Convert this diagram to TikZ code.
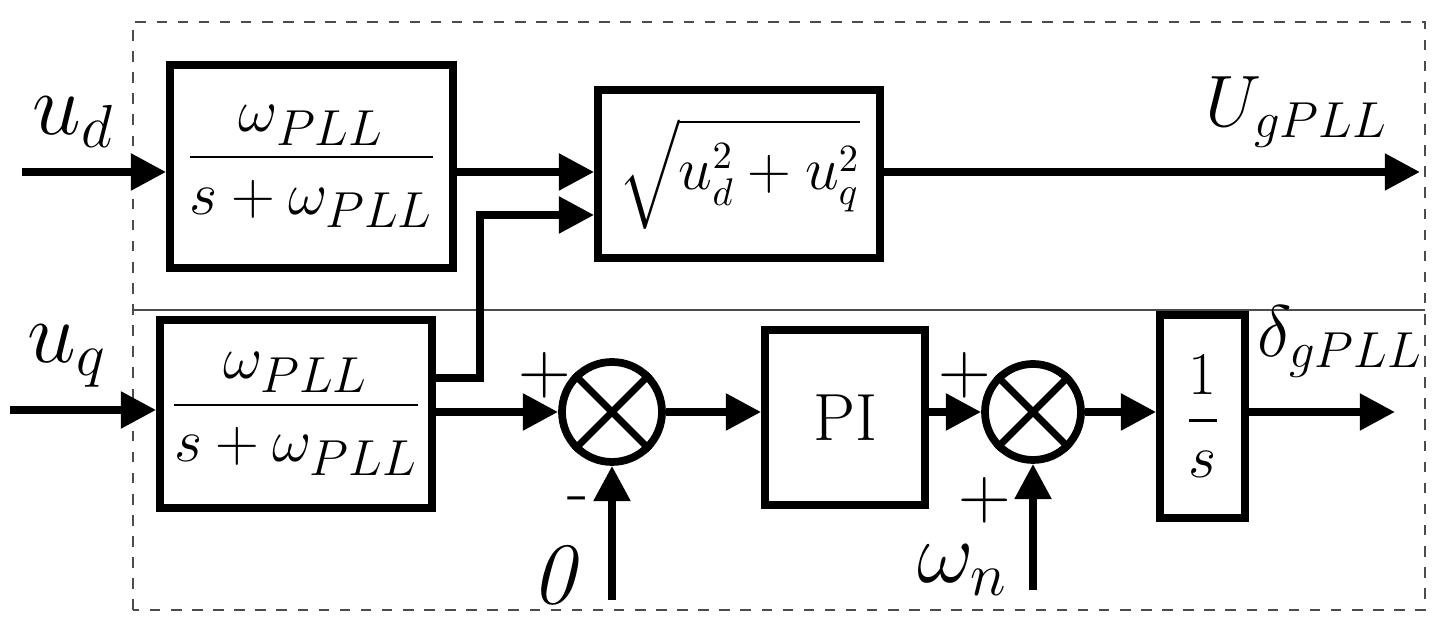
\documentclass[tikz,border=0pt]{standalone}
\usepackage{amsmath}
\usetikzlibrary{arrows.meta, positioning}
\tikzstyle{block} = [
    rectangle,
    draw=black,
    line width=2.2pt,
    inner sep=0pt,
    font=\fontsize{19}{23}\selectfont
]
\tikzstyle{sum} = [
    circle,
    draw=black,
    line width=2.2pt,
    minimum size=1cm,
    inner sep=0pt
]
\tikzstyle{arrow} = [line width=2.2pt,-{Triangle[length=10pt,width=10pt]}]
\tikzstyle{lbl} = [font=\fontsize{26}{30}\selectfont]
\tikzstyle{sgn} = [font=\fontsize{20}{24}\selectfont]

\begin{document}
\begin{tikzpicture}
\useasboundingbox (0,0) rectangle (14.4,6.3);

% Frame
\draw [dashed, line width=0.8pt, gray!60!black] (1.33,0.2) rectangle (14.25,6.08);
\draw [line width=0.8pt, gray!60!black] (1.33,3.2) -- (14.25,3.2);

% Nodes
\node (lpfd) [block, minimum width=2.83cm, minimum height=2.03cm] at (3.115,4.635) {$\dfrac{\omega_{PLL}}{s+\omega_{PLL}}$};
\node (mag) [block, minimum width=2.82cm, minimum height=1.68cm, font=\fontsize{16}{20}\selectfont] at (7.39,4.56) {$\sqrt{u_d^2+u_q^2}$};
\node (lpfq) [block, minimum width=2.72cm, minimum height=1.88cm] at (2.96,2.16) {$\dfrac{\omega_{PLL}}{s+\omega_{PLL}}$};
\node (sum1) [sum] at (6.12,2.18) {};
\node (pi) [block, minimum width=1.6cm, minimum height=1.75cm] at (8.45,2.125) {PI};
\node (sum2) [sum, minimum size=0.96cm] at (10.33,2.18) {};
\node (integ) [block, minimum width=0.85cm, minimum height=2.03cm, font=\fontsize{16}{20}\selectfont] at (12.025,2.135) {$\dfrac{1}{s}$};

\draw [line width=2pt] (sum1.45) -- (sum1.225) (sum1.135) -- (sum1.315);
\draw [line width=2pt] (sum2.45) -- (sum2.225) (sum2.135) -- (sum2.315);

\coordinate (ud) at (0.22,4.58);
\coordinate (uq) at (0.1,2.2);
\coordinate (ug) at (14.2,4.58);
\coordinate (dg) at (13.95,2.18);
\coordinate (zero) at (6.12,0.3);
\coordinate (wn) at (10.33,0.4);
\coordinate (bend) at (4.8,2.52);

\node [lbl, anchor=south west] at (0.2,4.7) {$u_d$};
\node [lbl, anchor=south west] at (0.15,2.3) {$u_q$};
\node [lbl, anchor=south east, font=\fontsize{22}{26}\selectfont] at (14.0,4.7) {$U_{gPLL}$};
\node [lbl, anchor=south east, font=\fontsize{20}{24}\selectfont] at (14.35,2.4) {$\delta_{gPLL}$};
\node [lbl, anchor=east] at (6.0,0.55) {$\mathit{0}$};
\node [lbl, anchor=east] at (10.2,0.6) {$\omega_n$};
\node [sgn] at (5.45,2.55) {$+$};
\node [sgn] at (5.78,1.25) {-};
\node [sgn] at (9.65,2.55) {$+$};
\node [sgn] at (9.85,1.3) {$+$};

% Arrows
\draw [arrow] (ud) -- (lpfd.west |- ud);
\draw [arrow] (lpfd.east |- ud) -- (mag.west |- ud);
\draw [arrow] (mag.east |- ud) -- (ug);
\draw [arrow] (lpfq.east |- bend) -- (bend) |- (mag.west |- 0,4.15);
\draw [arrow] (uq) -- (lpfq.west |- uq);
\draw [arrow] (lpfq.east |- sum1) -- (sum1);
\draw [arrow] (sum1) -- (pi.west |- sum1);
\draw [arrow] (pi.east |- sum2) -- (sum2);
\draw [arrow] (sum2) -- (integ.west |- sum2);
\draw [arrow] (integ.east |- dg) -- (dg);
\draw [arrow] (zero) -- (sum1);
\draw [arrow] (wn) -- (sum2);

\end{tikzpicture}
\end{document}
